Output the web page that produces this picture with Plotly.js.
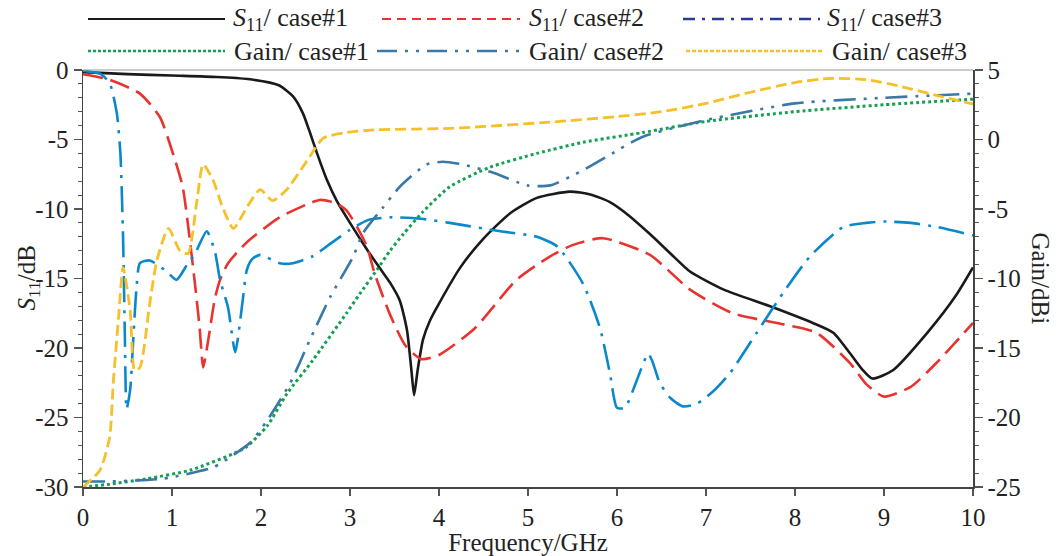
<!DOCTYPE html>
<html>
<head>
<meta charset="utf-8">
<script src="https://cdn.plot.ly/plotly-3.0.1.min.js"></script>
<style>
  html, body { margin: 0; padding: 0; background: #fff; }
  #chart { width: 1059px; height: 556px; }
</style>
</head>
<body>
<div id="chart"></div>
<script>
// ---- measured data ----
// S11 (dB), left axis
const freqS11c1 = [0, 0.5, 1.0, 1.5, 1.85, 2.2, 2.36, 2.47, 2.55, 2.63, 2.74, 2.85, 3.0, 3.2, 3.34, 3.45, 3.56, 3.64, 3.69, 3.72, 3.76, 3.82, 3.9, 4.0, 4.24, 4.49, 4.8, 5.1, 5.47, 5.7, 5.92, 6.1, 6.37, 6.6, 6.82, 7.2, 7.72, 8.2, 8.43, 8.62, 8.75, 8.87, 9.1, 9.5, 9.8, 10];
const s11Case1  = [-0.15, -0.3, -0.4, -0.5, -0.65, -1.1, -1.9, -3.1, -4.5, -6.0, -7.9, -9.4, -11.0, -13.0, -14.3, -15.3, -16.6, -18.7, -21.6, -23.4, -21.6, -19.4, -18.0, -16.8, -14.2, -12.2, -10.3, -9.2, -8.75, -8.95, -9.5, -10.3, -11.8, -13.2, -14.5, -15.8, -17.0, -18.2, -18.9, -20.4, -21.5, -22.2, -21.6, -18.8, -16.3, -14.2];

const freqS11c2 = [0, 0.3, 0.64, 0.865, 1.01, 1.12, 1.2, 1.26, 1.31, 1.35, 1.39, 1.43, 1.48, 1.54, 1.63, 1.84, 2.21, 2.66, 2.85, 2.96, 3.08, 3.19, 3.28, 3.45, 3.62, 3.8, 4.0, 4.4, 4.87, 5.25, 5.5, 5.84, 6.37, 6.82, 7.3, 7.87, 8.24, 8.62, 8.8, 9.0, 9.3, 9.6, 10];
const s11Case2  = [-0.3, -0.7, -1.7, -3.4, -6.0, -8.4, -12.2, -15.5, -18.5, -21.4, -20.1, -18.5, -16.5, -15.1, -13.9, -12.4, -10.6, -9.35, -9.6, -10.1, -11.3, -12.7, -14.7, -17.6, -19.8, -20.8, -20.5, -18.6, -15.1, -13.4, -12.6, -12.1, -13.3, -15.8, -17.5, -18.3, -18.9, -21.1, -22.6, -23.5, -22.8, -21.0, -18.2];

const freqS11c3 = [0, 0.2, 0.3, 0.38, 0.42, 0.45, 0.47, 0.49, 0.53, 0.56, 0.6, 0.64, 0.75, 0.94, 1.05, 1.17, 1.26, 1.39, 1.48, 1.54, 1.63, 1.71, 1.79, 1.84, 1.9, 1.99, 2.21, 2.36, 2.58, 2.8, 3.0, 3.2, 3.45, 3.8, 4.12, 4.69, 5.1, 5.33, 5.62, 5.81, 5.92, 6.0, 6.09, 6.2, 6.29, 6.35, 6.4, 6.48, 6.6, 6.74, 6.9, 7.1, 7.27, 7.57, 7.87, 8.17, 8.54, 8.8, 9.0, 9.3, 9.6, 10];
const s11Case3  = [-0.05, -0.3, -0.95, -3.1, -6.0, -12.0, -19.0, -24.4, -23.0, -19.9, -15.8, -13.9, -13.7, -14.5, -15.1, -14.0, -13.2, -11.6, -13.0, -15.1, -17.1, -20.3, -16.8, -14.4, -13.6, -13.3, -13.9, -13.9, -13.4, -12.4, -11.5, -10.8, -10.6, -10.7, -11.0, -11.6, -12.0, -12.7, -15.4, -18.6, -21.8, -24.3, -24.3, -22.7, -21.2, -20.4, -21.0, -22.5, -23.6, -24.2, -24.0, -23.0, -21.8, -18.9, -16.0, -13.4, -11.3, -11.0, -10.9, -11.0, -11.3, -11.9];

// Gain (dBi), right axis
const freqG1 = [0, 0.3, 0.72, 1.2, 1.69, 1.84, 2.07, 2.29, 2.58, 2.96, 3.11, 3.3, 3.45, 3.6, 3.82, 4.12, 4.57, 5.1, 5.62, 6.29, 7.0, 8.0, 9.0, 10];
const gainCase1 = [-25, -24.8, -24.4, -23.8, -22.6, -22.1, -20.6, -18.3, -15.9, -12.5, -11.1, -9.4, -8.0, -6.8, -5.2, -3.4, -2.0, -1.0, -0.2, 0.5, 1.3, 2.0, 2.5, 2.9];

const freqG2 = [0, 0.3, 0.9, 1.46, 1.57, 1.88, 2.07, 2.33, 2.55, 2.78, 3.03, 3.15, 3.37, 3.56, 3.86, 4.04, 4.27, 4.61, 4.99, 5.25, 5.62, 6.0, 6.29, 7.0, 8.0, 9.0, 10];
const gainCase2 = [-24.6, -24.6, -24.4, -23.6, -23.2, -21.8, -20.2, -17.5, -14.4, -11.3, -8.5, -6.7, -4.9, -3.4, -1.8, -1.6, -1.8, -2.4, -3.3, -3.3, -2.2, -0.8, 0.2, 1.4, 2.6, 3.0, 3.3];

const freqG3 = [0, 0.19, 0.3, 0.34, 0.4, 0.45, 0.53, 0.58, 0.64, 0.75, 0.83, 0.96, 1.09, 1.18, 1.28, 1.35, 1.46, 1.57, 1.69, 1.84, 1.99, 2.13, 2.29, 2.52, 2.7, 2.96, 3.3, 4.12, 5.25, 6.0, 6.5, 7.0, 7.5, 8.0, 8.4, 8.8, 9.2, 9.6, 10];
const gainCase3 = [-25, -23.8, -21.4, -17.5, -12.8, -9.2, -12.3, -16.6, -16.4, -11.8, -8.7, -6.4, -8.0, -8.2, -4.4, -1.8, -2.9, -4.9, -6.4, -4.9, -3.6, -4.4, -3.6, -1.5, 0.1, 0.5, 0.7, 0.8, 1.25, 1.65, 2.0, 2.6, 3.4, 4.1, 4.4, 4.3, 3.8, 3.15, 2.55];

const seriesNames = [
  '<i>S</i><sub>11</sub>/ case#1',
  '<i>S</i><sub>11</sub>/ case#2',
  '<i>S</i><sub>11</sub>/ case#3',
  'Gain/ case#1',
  'Gain/ case#2',
  'Gain/ case#3'
];

const xTickVals = [0, 1, 2, 3, 4, 5, 6, 7, 8, 9, 10];
const xTickText = ['0', '1', '2', '3', '4', '5', '6', '7', '8', '9', '10'];
const leftTickVals = [0, -5, -10, -15, -20, -25, -30];
const leftTickText = ['0', '-5', '-10', '-15', '-20', '-25', '-30'];
const rightTickVals = [5, 0, -5, -10, -15, -20, -25];
const rightTickText = ['5', '0', '-5', '-10', '-15', '-20', '-25'];

// ---- styles ----
const FONT = 'Liberation Serif';
const styles = [
  { color: '#1a1a1a', dash: 'solid', width: 2.6, axis: 'y'  },
  { color: '#e8332f', dash: '20px,8px', width: 2.6, axis: 'y' },
  { color: '#0a88cc', dash: '26px,8px,3px,8px', width: 2.6, axis: 'y' },
  { color: '#12a150', dash: '3px,3px', width: 3, axis: 'y2' },
  { color: '#3a78a8', dash: '22px,8px,3px,8px,3px,8px', width: 2.6, axis: 'y2' },
  { color: '#f5c02a', dash: '11px,5px', width: 2.8, axis: 'y2' }
];

const xs = [freqS11c1, freqS11c2, freqS11c3, freqG1, freqG2, freqG3];
const ys = [s11Case1, s11Case2, s11Case3, gainCase1, gainCase2, gainCase3];

const traces = xs.map((x, i) => ({
  type: 'scatter',
  mode: 'lines',
  x: x,
  y: ys[i],
  yaxis: styles[i].axis,
  name: seriesNames[i],
  showlegend: false,
  line: { color: styles[i].color, dash: styles[i].dash, width: styles[i].width, shape: 'spline', smoothing: 0.6 }
}));

// ---- legend drawn above the plot area (pixel layout converted to paper coords) ----
const L = 83, R = 973, T = 70, B = 487;
const px2x = px => (px - L) / (R - L);
const py2y = py => (B - py) / (B - T);

const legendSlots = [
  { x0: 88,  x1: 225, tx: 231, py: 19, color: '#1a1a1a', dash: 'solid', width: 2 },
  { x0: 382, x1: 520, tx: 527, py: 19, color: '#e8332f', dash: '9px,6px', width: 2 },
  { x0: 683, x1: 820, tx: 825, py: 19, color: '#2a3a9c', dash: '12px,7px,3px,7px', width: 2.4 },
  { x0: 88,  x1: 225, tx: 232, py: 51, color: '#12a150', dash: '3px,2px', width: 2.6 },
  { x0: 377, x1: 520, tx: 527, py: 51, color: '#3a78a8', dash: '20px,8px,3px,8px,3px,8px', width: 2.6 },
  { x0: 686, x1: 822, tx: 830, py: 51, color: '#f5c02a', dash: '4px,2px', width: 2.6 }
];

const shapes = legendSlots.map(s => ({
  type: 'line', xref: 'paper', yref: 'paper',
  x0: px2x(s.x0), x1: px2x(s.x1), y0: py2y(s.py), y1: py2y(s.py),
  line: { color: s.color, dash: s.dash, width: s.width }
}));
// top frame line
shapes.push({
  type: 'line', xref: 'paper', yref: 'paper', x0: 0, x1: 1, y0: 1, y1: 1,
  line: { color: '#9a9a9a', width: 1.2 }
});

const annotations = legendSlots.map((s, i) => ({
  xref: 'paper', yref: 'paper', x: px2x(s.tx), y: py2y(s.py),
  xanchor: 'left', yanchor: 'middle', showarrow: false,
  text: seriesNames[i],
  font: { family: FONT, size: 26, color: '#222' }
}));
annotations.push({
  xref: 'paper', yref: 'paper', x: px2x(28), y: 0.5,
  xanchor: 'center', yanchor: 'middle', showarrow: false, textangle: -90,
  text: '<i>S</i><sub>11</sub>/dB',
  font: { family: FONT, size: 25, color: '#222' }
});
annotations.push({
  xref: 'paper', yref: 'paper', x: px2x(1040), y: 0.5,
  xanchor: 'center', yanchor: 'middle', showarrow: false, textangle: 90,
  text: 'Gain/dBi',
  font: { family: FONT, size: 25, color: '#222' }
});

const axisCommon = {
  showgrid: false, zeroline: false,
  showline: true, linecolor: '#444', linewidth: 1.5,
  ticks: 'outside', tickcolor: '#555', tickwidth: 1.3,
  tickfont: { family: FONT, size: 25, color: '#222' }
};

const layout = {
  width: 1059, height: 556,
  paper_bgcolor: '#fff', plot_bgcolor: '#fff',
  font: { family: FONT },
  margin: { l: L, r: 1059 - R, t: T, b: 556 - B, pad: 0 },
  showlegend: false,
  xaxis: Object.assign({}, axisCommon, {
    range: [0, 10], tickvals: xTickVals, ticktext: xTickText, ticklen: 7,
    title: { text: 'Frequency/GHz', font: { family: FONT, size: 25, color: '#222' }, standoff: 0 }
  }),
  yaxis: Object.assign({}, axisCommon, {
    range: [-30, 0], tickvals: leftTickVals, ticktext: leftTickText, ticklen: 8,
    minor: { dtick: 1, ticks: 'outside', ticklen: 4, tickcolor: '#555', tickwidth: 1.1 }
  }),
  yaxis2: Object.assign({}, axisCommon, {
    range: [-25, 5], tickvals: rightTickVals, ticktext: rightTickText, ticklen: 8,
    overlaying: 'y', side: 'right', anchor: 'x',
    minor: { dtick: 1, ticks: 'outside', ticklen: 4, tickcolor: '#555', tickwidth: 1.1 }
  }),
  shapes: shapes,
  annotations: annotations
};

Plotly.newPlot('chart', traces, layout, { staticPlot: true, displayModeBar: false });
</script>
</body>
</html>
